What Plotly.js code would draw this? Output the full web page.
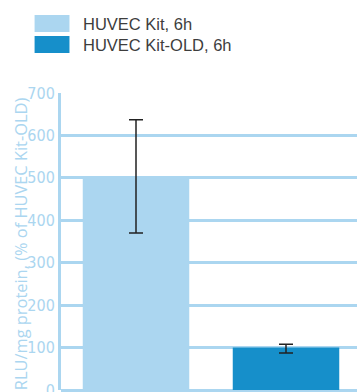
<!DOCTYPE html>
<html><head><meta charset="utf-8">
<script src="https://cdn.plot.ly/plotly-3.0.1.min.js"></script>
<style>html,body{margin:0;padding:0;overflow:hidden;background:#fff}</style>
</head><body><div id="chart"></div>
<script>
const categories = ["HUVEC Kit, 6h", "HUVEC Kit-OLD, 6h"];
const values = [500, 100];
const errPlus = [137, 8];
const errMinus = [130, 13];
const barColors = ["#abd6f0", "#168fca"];
const yTicks = [0, 100, 200, 300, 400, 500, 600, 700];
const yTitle = "RLU/mg protein, (% of HUVEC Kit-OLD)";

const W = 380, H = 420;
const M = {l: 60.5, r: 18.5, t: 93, b: 30};
const pw = W - M.l - M.r, ph = H - M.t - M.b;
const px = x => (x - M.l) / pw;
const py = y => (H - M.b - y) / ph;

const light = "#abd6f0";
const shapes = [], annotations = [];
categories.forEach((c, i) => {
  const top = 15 + i * 21;
  shapes.push({type: "rect", xref: "paper", yref: "paper",
    x0: px(34), x1: px(69), y0: py(top + 17), y1: py(top),
    fillcolor: barColors[i], line: {width: 0}});
  annotations.push({xref: "paper", yref: "paper", x: px(81), y: py(top + 8.5),
    xanchor: "left", yanchor: "middle", showarrow: false, text: c,
    font: {family: "Liberation Sans, Arial, sans-serif", size: 16.5, color: "#3d3d3d"}});
});
annotations.push({xref: "paper", yref: "paper", x: px(20), y: py(243.5),
  xanchor: "center", yanchor: "middle", showarrow: false, textangle: -90,
  text: yTitle,
  font: {family: "Open Sans, Liberation Sans, sans-serif", size: 16.4, color: light}});

const trace = {
  type: "bar", x: categories, y: values,
  marker: {color: barColors, line: {width: 0}},
  width: 0.71,
  error_y: {type: "data", symmetric: false, array: errPlus, arrayminus: errMinus,
    color: "#222222", thickness: 1.5, width: 7},
  showlegend: false, hoverinfo: "none"
};

const layout = {
  width: W, height: H, margin: M,
  paper_bgcolor: "#fff", plot_bgcolor: "#fff",
  showlegend: false,
  xaxis: {type: "category", range: [-0.5, 1.5], showticklabels: false,
    showgrid: false, showline: false, zeroline: false, ticks: ""},
  yaxis: {range: [0, 700], tickvals: yTicks, ticks: "",
    showgrid: true, gridcolor: light, gridwidth: 3,
    zeroline: true, zerolinecolor: light, zerolinewidth: 3,
    showline: true, linecolor: light, linewidth: 3,
    tickfont: {family: "Liberation Sans Narrow, DejaVu Sans Condensed, Arial Narrow, sans-serif", size: 16, color: light}},
  shapes: shapes, annotations: annotations
};
Plotly.newPlot("chart", [trace], layout, {displayModeBar: false, staticPlot: true});
</script></body></html>
